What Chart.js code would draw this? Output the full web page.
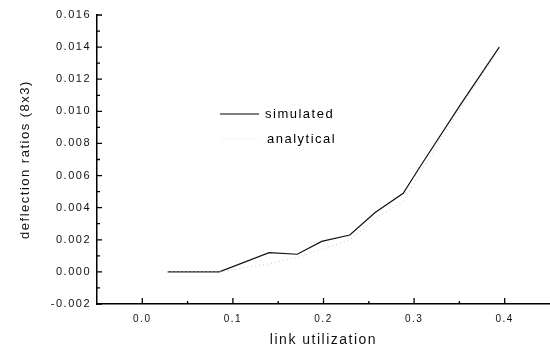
<!DOCTYPE html>
<html>
<head>
<meta charset="utf-8">
<script src="https://cdn.jsdelivr.net/npm/chart.js@4.4.1/dist/chart.umd.min.js"></script>
<style>
  html, body { margin: 0; padding: 0; background: #fff; }
  #wrap { width: 550px; height: 353px; }
</style>
</head>
<body>
<div id="wrap"><canvas id="chart"></canvas></div>
<script>
// link utilization values
const simX = [0.028, 0.085, 0.140, 0.171, 0.198, 0.229, 0.257, 0.288, 0.306, 0.351, 0.394];
const simY = [0.0000, 0.0000, 0.0012, 0.0011, 0.0019, 0.0023, 0.0037, 0.0049, 0.0065, 0.0104, 0.0140];
const anaX = [0.028, 0.085, 0.140, 0.171, 0.198, 0.229, 0.257, 0.288, 0.306, 0.351, 0.394];
const anaY = [0.0000, 0.0000, 0.0005, 0.0009, 0.0014, 0.0020, 0.0033, 0.0044, 0.0061, 0.0102, 0.0139];
const seriesNames = ['simulated', 'analytical'];

const toPts = (xs, ys) => xs.map((x, i) => ({ x: x, y: ys[i] }));

// inward tick marks + legend drawn inside the plot
const extras = {
  id: 'extras',
  beforeDraw(chart) {
    chart.ctx.letterSpacing = '1.5px';
  },
  afterDraw(chart) {
    const ctx = chart.ctx;
    const xs = chart.scales.x, ys = chart.scales.y;
    ctx.save();
    ctx.strokeStyle = '#000';
    ctx.lineWidth = 1.3;
    ctx.beginPath();
    ys.ticks.forEach(t => {
      const p = ys.getPixelForValue(t.value);
      const major = Math.round(t.value * 1000) % 2 === 0;
      ctx.moveTo(xs.left, p);
      ctx.lineTo(xs.left + (major ? 5 : 3), p);
    });
    xs.ticks.forEach(t => {
      if (t.value <= xs.min || t.value >= xs.max) return;
      const p = xs.getPixelForValue(t.value);
      const major = Math.round(t.value * 100) % 10 === 0;
      ctx.moveTo(p, ys.bottom);
      ctx.lineTo(p, ys.bottom - (major ? 6 : 3));
    });
    ctx.stroke();

    // legend
    ctx.font = '13px "Liberation Sans", Arial, sans-serif';
    ctx.fillStyle = '#000';
    ctx.textBaseline = 'middle';
    ctx.beginPath();
    ctx.lineWidth = 1.2;
    ctx.moveTo(220, 114);
    ctx.lineTo(259, 114);
    ctx.stroke();
    ctx.fillText(seriesNames[0], 265, 114);
    ctx.beginPath();
    ctx.strokeStyle = '#d8d8d8';
    ctx.lineWidth = 1;
    ctx.setLineDash([1, 3]);
    ctx.moveTo(222, 139);
    ctx.lineTo(259, 139);
    ctx.stroke();
    ctx.setLineDash([]);
    ctx.fillText(seriesNames[1], 267, 139);
    ctx.restore();
  }
};

new Chart(document.getElementById('chart'), {
  type: 'line',
  data: {
    datasets: [
      {
        label: seriesNames[1],
        data: toPts(anaX, anaY),
        borderColor: '#c4c4c4',
        borderWidth: 1,
        borderDash: [1, 3],
        pointRadius: 0,
        tension: 0
      },
      {
        label: seriesNames[0],
        data: toPts(simX, simY),
        borderColor: '#111',
        borderWidth: 1.2,
        pointRadius: 0,
        tension: 0
      }
    ]
  },
  options: {
    responsive: true,
    maintainAspectRatio: false,
    animation: false,
    layout: { padding: { top: 15, right: 0, left: 0, bottom: 0 } },
    plugins: { legend: { display: false }, tooltip: { enabled: false } },
    scales: {
      x: {
        type: 'linear',
        min: -0.05,
        max: 0.45,
        afterFit: s => { s.height = 49; s.paddingRight = 0; s.paddingLeft = 0; },
        border: { display: true, color: '#000', width: 1.5 },
        grid: { display: false, drawTicks: false },
        ticks: {
          stepSize: 0.05,
          autoSkip: false,
          maxRotation: 0,
          padding: 9,
          color: '#111',
          font: { family: '"Liberation Sans", Arial, sans-serif', size: 10 },
          callback: v => (Math.round(v * 100) % 10 === 0 && v > -0.01 && v < 0.44) ? v.toFixed(1) : ''
        },
        title: {
          display: true,
          text: 'link utilization',
          color: '#111',
          padding: { top: 0, bottom: 4 },
          font: { family: '"Liberation Sans", Arial, sans-serif', size: 14 }
        }
      },
      y: {
        min: -0.002,
        max: 0.016,
        afterFit: s => { s.width = 97; },
        border: { display: true, color: '#000', width: 1.5 },
        grid: { display: false, drawTicks: false },
        ticks: {
          stepSize: 0.001,
          autoSkip: false,
          padding: 6,
          color: '#111',
          font: { family: '"Liberation Sans", Arial, sans-serif', size: 11 },
          callback: v => Math.round(v * 1000) % 2 === 0 ? v.toFixed(3) : ''
        },
        title: {
          display: true,
          text: 'deflection ratios (8x3)',
          color: '#111',
          padding: { top: 18, bottom: 0 },
          font: { family: '"Liberation Sans", Arial, sans-serif', size: 13 }
        }
      }
    }
  },
  plugins: [extras]
});
</script>
</body>
</html>
